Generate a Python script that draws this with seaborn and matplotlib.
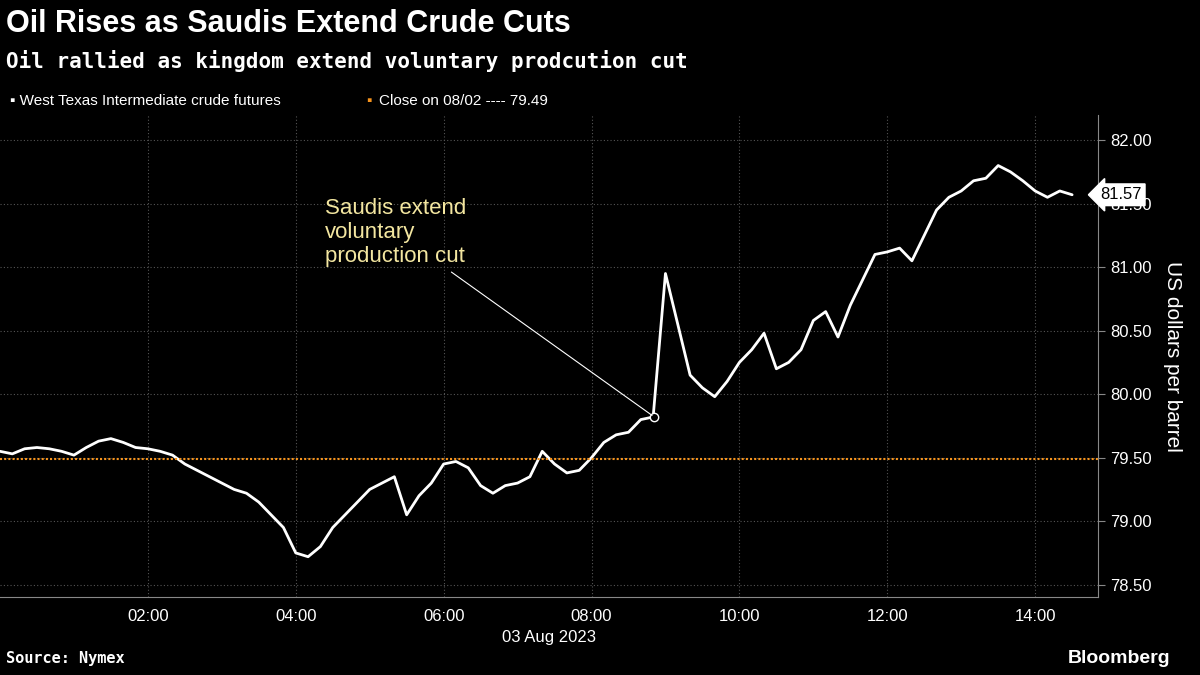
import pandas as pd
import matplotlib.pyplot as plt
import seaborn as sns

# Prix du WTI, toutes les 10 minutes, le 03/08/2023
prix = [79.55, 79.53, 79.57, 79.58, 79.57, 79.55, 79.52, 79.58, 79.63, 79.65, 79.62, 79.58,
        79.57, 79.55, 79.52, 79.45, 79.40, 79.35, 79.30, 79.25, 79.22, 79.15, 79.05, 78.95,
        78.75, 78.72, 78.80, 78.95, 79.05, 79.15, 79.25, 79.30, 79.35, 79.05, 79.20, 79.30,
        79.45, 79.47, 79.42, 79.28, 79.22, 79.28, 79.30, 79.35, 79.55, 79.45, 79.38, 79.40,
        79.50, 79.62, 79.68, 79.70, 79.80, 79.82, 80.95, 80.55, 80.15, 80.05, 79.98, 80.10,
        80.25, 80.35, 80.48, 80.20, 80.25, 80.35, 80.58, 80.65, 80.45, 80.70, 80.90, 81.10,
        81.12, 81.15, 81.05, 81.25, 81.45, 81.55, 81.60, 81.68, 81.70, 81.80, 81.75, 81.68,
        81.60, 81.55, 81.60, 81.57]
df = pd.DataFrame({"heure": [i / 6 for i in range(len(prix))], "prix": prix})

# DÃ©finir le style
sns.set_style("dark", {"axes.facecolor": "black", "figure.facecolor": "black"})
plt.rcParams["font.family"] = ["Liberation Sans", "DejaVu Sans"]

fig = plt.figure(figsize=(12, 6.75), dpi=100)
ax = fig.add_axes([0.0, 0.115, 0.915, 0.715])
sns.lineplot(data=df, x="heure", y="prix", color="white", linewidth=2, ax=ax)
ax.axhline(79.49, color="#f7941d", linestyle=(0, (1, 1)), linewidth=1.5)

ax.set_xlim(0, 14.85)
ax.set_ylim(78.4, 82.2)
ax.set_xticks([2, 4, 6, 8, 10, 12, 14])
ax.set_xticklabels(["02:00", "04:00", "06:00", "08:00", "10:00", "12:00", "14:00"])
ax.set_yticks([78.5, 79, 79.5, 80, 80.5, 81, 81.5, 82])
ax.set_yticklabels([f"{v:.2f}" for v in ax.get_yticks()])
ax.yaxis.tick_right()
ax.yaxis.set_label_position("right")
ax.tick_params(colors="white", labelsize=12, length=5, color="#888888")
ax.grid(True, color="#555555", linestyle=(0, (1, 2)), linewidth=0.8)
for s in ["top", "left"]:
    ax.spines[s].set_visible(False)
for s in ["bottom", "right"]:
    ax.spines[s].set_color("#888888")
ax.set_xlabel("03 Aug 2023", color="white", fontsize=12)
ax.set_ylabel("US dollars per barrel", color="white", fontsize=15, rotation=270, labelpad=22)

ax.annotate("Saudis extend\nvoluntary\nproduction cut", xy=(8.85, 79.82), xytext=(4.4, 81.0),
            color="#f3e6a0", fontsize=16, ha="left", va="bottom", linespacing=1.2,
            arrowprops=dict(arrowstyle="-", color="white", lw=0.8))
ax.plot(8.85, 79.82, "o", mfc="black", mec="white", ms=6)
ax.text(1.002, (81.57 - 78.4) / 3.8, "81.57", transform=ax.transAxes, color="black", fontsize=12,
        va="center", bbox=dict(boxstyle="larrow,pad=0.2", fc="white", ec="white"))

fig.text(0.005, 0.965, "Oil Rises as Saudis Extend Crude Cuts", color="white", fontsize=22, weight="bold", va="center")
fig.text(0.005, 0.91, "Oil rallied as kingdom extend voluntary prodcution cut", color="white", fontsize=15, weight="bold",
         va="center", family="DejaVu Sans Mono")
fig.text(0.008, 0.851, "\u25aa West Texas Intermediate crude futures", color="white", fontsize=11, va="center")
fig.text(0.305, 0.851, "\u25aa", color="#f7941d", fontsize=11, va="center")
fig.text(0.316, 0.851, "Close on 08/02 ---- 79.49", color="white", fontsize=11, va="center")
fig.text(0.005, 0.018, "Source: Nymex", color="white", fontsize=11, weight="bold", family="DejaVu Sans Mono")
fig.text(0.975, 0.018, "Bloomberg", color="white", fontsize=14, weight="bold", ha="right")

plt.savefig("out.png", facecolor="black")
